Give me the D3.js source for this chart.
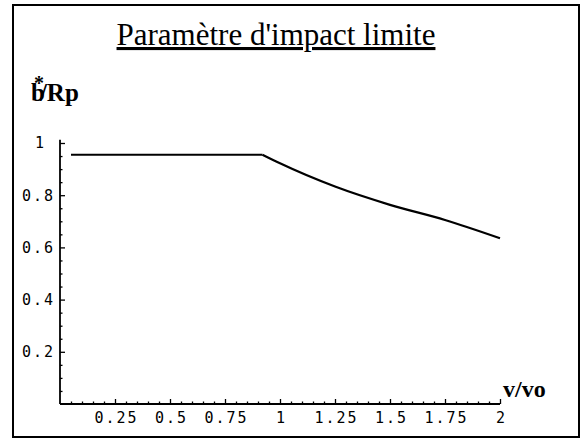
<!DOCTYPE html>
<html>
<head>
<meta charset="utf-8">
<script src="https://cdn.jsdelivr.net/npm/d3@7"></script>
<style>
  html, body { margin: 0; padding: 0; background: #fff; }
  svg { display: block; }
</style>
</head>
<body>
<svg id="chart" width="585" height="443"></svg>
<script>
// ---- data ----
const titleText = "Paramètre d'impact limite";
const xLabel = "v/vo";
const vRatio = [0.05, 0.92, 1.0, 1.25, 1.5, 1.75, 2.0];
const bRatio = [0.955, 0.955, 0.922, 0.833, 0.763, 0.705, 0.635];
const xTicks = [0.25, 0.5, 0.75, 1, 1.25, 1.5, 1.75, 2];
const yTicks = [0.2, 0.4, 0.6, 0.8, 1];

const svg = d3.select("#chart");

// frame
svg.append("rect")
  .attr("x", 13).attr("y", 5).attr("width", 566).attr("height", 432)
  .attr("fill", "none").attr("stroke", "#000").attr("stroke-width", 2);

// title
svg.append("text")
  .attr("x", 276).attr("y", 45)
  .attr("text-anchor", "middle")
  .attr("font-family", "'Liberation Serif', 'Times New Roman', serif")
  .attr("font-size", 31)
  .attr("text-decoration", "underline")
  .text(titleText);

// scales
const x = d3.scaleLinear().domain([0, 2]).range([60, 500]);
const y = d3.scaleLinear().domain([0, 1]).range([404, 143]);

const monoFont = "'DejaVu Sans Mono', 'Liberation Mono', monospace";

// minor ticks
const xMinor = d3.range(0.05, 2.001, 0.05).filter(v => Math.abs(v / 0.25 - Math.round(v / 0.25)) > 1e-6);
const yMinor = d3.range(0.05, 1.001, 0.05).filter(v => Math.abs(v / 0.2 - Math.round(v / 0.2)) > 1e-6);

const gx = svg.append("g").attr("transform", `translate(0,${y(0)})`);
gx.call(d3.axisBottom(x).tickValues(xMinor).tickSize(-2.5).tickSizeOuter(0).tickFormat(""));
gx.select(".domain").remove();
const gxMaj = svg.append("g").attr("transform", `translate(0,${y(0)})`)
  .call(d3.axisBottom(x).tickValues(xTicks).tickSize(-5).tickSizeOuter(0).tickPadding(8)
    .tickFormat(d => String(d)));
gxMaj.select(".domain").attr("d", `M${x(0)},0H${x(2)}`).attr("stroke-width", 1.8);
gxMaj.selectAll("text")
  .attr("font-family", monoFont).attr("font-size", 15)
  .attr("letter-spacing", 2).attr("dx", 1).attr("fill", "#000");

const gy = svg.append("g").attr("transform", `translate(${x(0)},0)`);
gy.call(d3.axisLeft(y).tickValues(yMinor).tickSize(-2.5).tickSizeOuter(0).tickFormat(""));
gy.select(".domain").remove();
const gyMaj = svg.append("g").attr("transform", `translate(${x(0)},0)`)
  .call(d3.axisLeft(y).tickValues(yTicks).tickSize(-5).tickSizeOuter(0).tickPadding(5)
    .tickFormat(d => String(d)));
gyMaj.select(".domain").attr("d", `M0,${y(0)}V${y(1.012)}`).attr("stroke-width", 1.8);
gyMaj.selectAll("text")
  .attr("font-family", monoFont).attr("font-size", 15)
  .attr("letter-spacing", 2).attr("fill", "#000")
  .attr("dx", d => (String(d).includes(".") ? 0 : -9));
svg.selectAll(".tick line").attr("stroke", "#000").attr("stroke-width", 1.3);

// axis labels
svg.append("text")
  .attr("x", 503).attr("y", 397)
  .attr("font-family", "'Liberation Serif', 'Times New Roman', serif")
  .attr("font-weight", "bold").attr("font-size", 24)
  .text(xLabel);

const yl = svg.append("text")
  .attr("x", 31).attr("y", 101)
  .attr("font-family", "'Liberation Serif', 'Times New Roman', serif")
  .attr("font-weight", "bold").attr("font-size", 25);
yl.append("tspan").text("b");
yl.append("tspan").attr("dx", -11).attr("dy", -11).attr("font-size", 20).text("*");
yl.append("tspan").attr("dx", -4).attr("dy", 11).text("/Rp");

// curve
const pts = vRatio.map((v, i) => [v, bRatio[i]]);
const flat = pts.slice(0, 2);
const fall = pts.slice(1);
svg.append("path")
  .attr("d", d3.line().x(d => x(d[0])).y(d => y(d[1]))(flat))
  .attr("fill", "none").attr("stroke", "#000").attr("stroke-width", 2.2);
svg.append("path")
  .attr("d", d3.line().x(d => x(d[0])).y(d => y(d[1])).curve(d3.curveMonotoneX)(fall))
  .attr("fill", "none").attr("stroke", "#000").attr("stroke-width", 2.2);
</script>
</body>
</html>
